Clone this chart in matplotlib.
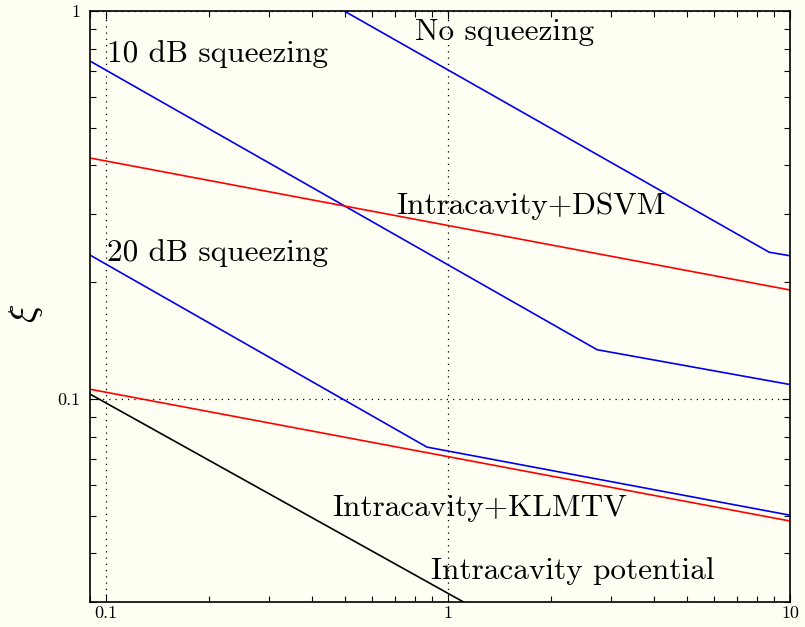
import matplotlib
matplotlib.use('Agg')
import matplotlib.pyplot as plt
from matplotlib.ticker import FixedLocator, NullFormatter, LogLocator

plt.rcParams['font.family'] = 'cmr10'
plt.rcParams['mathtext.fontset'] = 'cm'
plt.rcParams['axes.unicode_minus'] = False

# curves (x, xi)
no_sq_x = [0.497, 8.69, 10.0]
no_sq_y = [1.0, 0.239, 0.234]

sq10_x = [0.0898, 2.73, 10.0]
sq10_y = [0.743, 0.134, 0.109]

sq20_x = [0.0898, 0.868, 10.0]
sq20_y = [0.235, 0.0752, 0.0502]

dsvm_x = [0.0898, 10.0]
dsvm_y = [0.418, 0.191]

klmtv_x = [0.0898, 10.0]
klmtv_y = [0.106, 0.0485]

pot_x = [0.0898, 1.11]
pot_y = [0.1030, 0.0300]

labels = ['No squeezing', '10 dB squeezing', 'Intracavity+DSVM',
          '20 dB squeezing', 'Intracavity+KLMTV', 'Intracavity potential']
label_x = [0.80, 0.1006, 0.705, 0.1006, 0.458, 0.892]
label_y = [0.842, 0.739, 0.300, 0.227, 0.0499, 0.0344]

bg = '#fffff3'
fig = plt.figure(figsize=(8.05, 6.27), dpi=100, facecolor=bg)
ax = fig.add_axes([0.1118, 0.0399, 0.8696, 0.9426], facecolor=bg)

ax.plot(no_sq_x, no_sq_y, color='#0000ee', lw=1.2)
ax.plot(sq10_x, sq10_y, color='#0000ee', lw=1.2)
ax.plot(sq20_x, sq20_y, color='#0000ee', lw=1.2)
ax.plot(dsvm_x, dsvm_y, color='#ff0000', lw=1.2)
ax.plot(klmtv_x, klmtv_y, color='#ff0000', lw=1.2)
ax.plot(pot_x, pot_y, color='black', lw=1.2)

ax.set_xscale('log')
ax.set_yscale('log')
ax.set_xlim(0.0898, 10)
ax.set_ylim(0.0300, 1)

ax.xaxis.set_major_locator(FixedLocator([0.1, 1, 10]))
ax.set_xticklabels(['0.1', '1', '10'])
ax.yaxis.set_major_locator(FixedLocator([0.1, 1]))
ax.set_yticklabels(['0.1', '1'])
ax.xaxis.set_minor_locator(LogLocator(base=10, subs=range(2, 10)))
ax.yaxis.set_minor_locator(LogLocator(base=10, subs=range(2, 10)))
ax.xaxis.set_minor_formatter(NullFormatter())
ax.yaxis.set_minor_formatter(NullFormatter())

ax.tick_params(which='both', direction='in', top=True, right=True,
               labelsize=13, width=0.8)
ax.tick_params(which='major', length=6)
ax.tick_params(axis='y', which='major', pad=7)
ax.tick_params(axis='x', which='major', pad=3)
ax.tick_params(which='minor', length=4)
ax.grid(which='major', color='black', linestyle=(0, (1, 4)), lw=0.9)

for s in ax.spines.values():
    s.set_linewidth(1.2)

for t, x, y in zip(labels, label_x, label_y):
    ax.text(x, y, t, fontsize=22.5, ha='left', va='baseline')

ax.set_ylabel(r'$\xi$', fontsize=28, ha='center', va='center')
ax.yaxis.set_label_coords(-0.091, 0.489)

fig.savefig('out.png', dpi=100, facecolor=bg)
